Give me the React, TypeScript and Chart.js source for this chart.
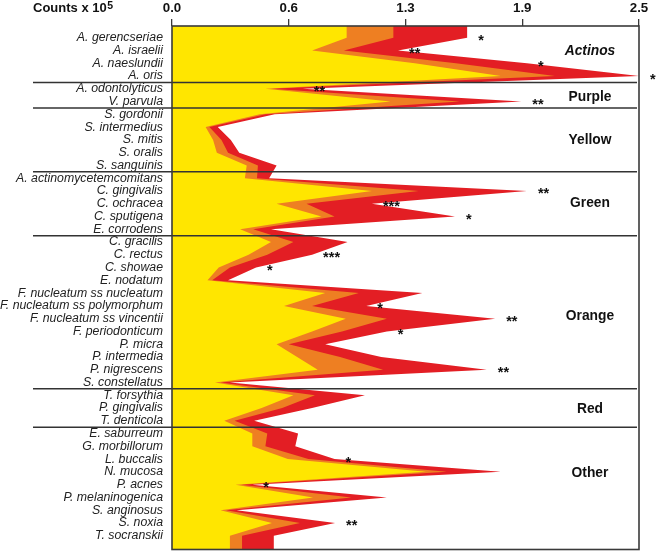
import React, { useEffect, useRef } from 'react';
import { Chart, registerables } from 'chart.js';

Chart.register(...registerables);

const FONT = '"Liberation Sans", Arial, Helvetica, sans-serif';

const categories = [
  'A. gerencseriae', 'A. israelii', 'A. naeslundii', 'A. oris',
  'A. odontolyticus', 'V. parvula',
  'S. gordonii', 'S. intermedius', 'S. mitis', 'S. oralis', 'S. sanguinis',
  'A. actinomycetemcomitans', 'C. gingivalis', 'C. ochracea', 'C. sputigena', 'E. corrodens',
  'C. gracilis', 'C. rectus', 'C. showae', 'E. nodatum', 'F. nucleatum ss nucleatum',
  'F. nucleatum ss polymorphum', 'F. nucleatum ss vincentii', 'F. periodonticum', 'P. micra',
  'P. intermedia', 'P. nigrescens', 'S. constellatus',
  'T. forsythia', 'P. gingivalis', 'T. denticola',
  'E. saburreum', 'G. morbillorum', 'L. buccalis', 'N. mucosa', 'P. acnes',
  'P. melaninogenica', 'S. anginosus', 'S. noxia', 'T. socranskii',
];

// yellow layer
const yellowValues = [
  0.935, 0.75, 1.30, 1.76,
  0.50, 1.17,
  0.47, 0.18, 0.22, 0.24, 0.40,
  0.39, 1.07, 0.56, 0.80, 0.365,
  0.53, 0.41, 0.25, 0.19, 0.82, 0.60, 0.93, 0.75, 0.56, 0.67, 0.78, 0.23,
  0.65, 0.48, 0.28,
  0.43, 0.43, 0.62, 1.36, 0.34, 0.755, 0.26, 0.535, 0.31,
];

// orange layer
const orangeValues = [
  1.185, 0.92, 1.52, 2.05,
  0.53, 1.54,
  0.50, 0.20, 0.265, 0.30, 0.46,
  0.455, 1.32, 0.72, 0.87, 0.435,
  0.65, 0.51, 0.31, 0.215, 1.00, 0.75, 1.15, 0.91, 0.625, 0.90, 1.13, 0.26,
  0.765, 0.59, 0.335,
  0.51, 0.50, 0.73, 1.47, 0.37, 0.96, 0.29, 0.685, 0.375,
];

// red layer
const redValues = [
  1.58, 1.21, 1.90, 2.50,
  0.70, 1.87,
  0.55, 0.245, 0.315, 0.36, 0.56,
  0.52, 1.90, 1.07, 1.515, 0.53,
  0.94, 0.75, 0.45, 0.30, 1.34, 1.04, 1.73, 1.15, 0.82, 1.12, 1.685, 0.31,
  1.033, 0.75, 0.44,
  0.675, 0.66, 0.87, 1.76, 0.43, 1.15, 0.346, 0.873, 0.545,
];

const significance = [
  '*', '**', '*', '*',
  '**', '**',
  '', '', '', '', '',
  '', '**', '***', '*', '',
  '', '***', '*', '', '', '*', '**', '*', '', '', '**', '',
  '', '', '',
  '', '', '*', '', '*', '', '', '**', '',
];

const groupNames = ['Actinos', 'Purple', 'Yellow', 'Green', 'Orange', 'Red', 'Other'];
const groupSizes = [4, 2, 5, 5, 12, 3, 9];
const groupLabelRows = [1.05, 4.68, 8.0, 12.97, 21.77, 29.07, 34.1];

const xTickValues = [0, 0.625, 1.25, 1.875, 2.5];
const xTickLabels = ['0.0', '0.6', '1.3', '1.9', '2.5'];

const Y_MIN = -0.92;
const Y_MAX = 40.08;

function toPoints(values: number[]) {
  return [
    { x: values[0], y: Y_MIN },
    ...values.map((v, i) => ({ x: v, y: i })),
    { x: values[values.length - 1], y: Y_MAX },
  ];
}

const annotations = {
  id: 'annotations',
  afterDraw(chart: any) {
    const { ctx, chartArea: ca, scales } = chart;
    const x = scales.x;
    const y = scales.y;
    ctx.save();
    // group separators
    ctx.strokeStyle = '#333';
    ctx.lineWidth = 1.5;
    let cum = 0;
    for (let g = 0; g < groupSizes.length - 1; g++) {
      cum += groupSizes[g];
      const py = y.getPixelForValue(cum - 0.5);
      ctx.beginPath();
      ctx.moveTo(33, py);
      ctx.lineTo(ca.right - 2, py);
      ctx.stroke();
    }
    // frame
    ctx.strokeStyle = '#3a3a3a';
    ctx.lineWidth = 1.6;
    ctx.strokeRect(ca.left, ca.top, ca.right - ca.left, ca.bottom - ca.top);

    // group labels
    ctx.fillStyle = '#111';
    ctx.textAlign = 'center';
    ctx.textBaseline = 'middle';
    groupNames.forEach((n, g) => {
      ctx.font = (g === 0 ? 'italic ' : '') + 'bold 13.8px ' + FONT;
      ctx.fillText(n, 590, y.getPixelForValue(groupLabelRows[g]));
    });

    // significance stars
    ctx.font = 'bold 14.5px ' + FONT;
    ctx.textAlign = 'left';
    ctx.textBaseline = 'alphabetic';
    significance.forEach((s, i) => {
      if (!s) return;
      ctx.fillText(s, x.getPixelForValue(redValues[i]) + 11, y.getPixelForValue(i) + 7.5);
    });

    // title
    ctx.font = 'bold 13px ' + FONT;
    ctx.fillStyle = '#111';
    ctx.fillText('Counts x 10', 33, 11.7);
    const w = ctx.measureText('Counts x 10').width;
    ctx.font = 'bold 10.5px ' + FONT;
    ctx.fillText('5', 33 + w + 0.5, 8.5);
    ctx.restore();
  },
};

export default function App() {
  const ref = useRef<HTMLCanvasElement | null>(null);

  useEffect(() => {
    if (!ref.current) return;
    const chart = new Chart(ref.current, {
      type: 'line',
      data: {
        datasets: [
          { label: 'Yellow', data: toPoints(yellowValues), backgroundColor: '#FFE600', borderWidth: 0, fill: 'origin', pointRadius: 0, tension: 0 },
          { label: 'Orange', data: toPoints(orangeValues), backgroundColor: '#EE7F22', borderWidth: 0, fill: 'origin', pointRadius: 0, tension: 0 },
          { label: 'Red', data: toPoints(redValues), backgroundColor: '#E31E24', borderWidth: 0, fill: 'origin', pointRadius: 0, tension: 0 },
        ],
      },
      options: {
        indexAxis: 'y',
        animation: false,
        responsive: false,
        events: [],
        layout: { padding: { top: 0, left: 0, right: 20, bottom: 1.5 } },
        plugins: { legend: { display: false }, tooltip: { enabled: false } },
        scales: {
          x: {
            type: 'linear',
            position: 'top',
            min: 0,
            max: 2.5,
            afterBuildTicks: (scale: any) => { scale.ticks = xTickValues.map((v) => ({ value: v })); },
            afterFit: (scale: any) => {
              scale.height = 26;
              scale.paddingLeft = 0;
              scale.paddingRight = 0;
              scale.paddingTop = 0;
              scale.paddingBottom = 0;
            },
            ticks: {
              callback: (_v: any, idx: number) => xTickLabels[idx],
              font: { family: FONT, size: 13.3, weight: 'bold' },
              color: '#111',
              padding: 3,
              maxRotation: 0,
            },
            grid: { display: true, drawOnChartArea: false, drawTicks: true, tickLength: 7, color: '#3a3a3a', lineWidth: 1.3 },
            border: { display: false },
          },
          y: {
            type: 'linear',
            reverse: true,
            min: Y_MIN,
            max: Y_MAX,
            afterBuildTicks: (scale: any) => { scale.ticks = categories.map((_, i) => ({ value: i })); },
            afterFit: (scale: any) => {
              scale.width = 172;
              scale.paddingLeft = 0;
              scale.paddingRight = 0;
              scale.paddingTop = 0;
              scale.paddingBottom = 0;
            },
            ticks: {
              autoSkip: false,
              callback: (v: any) => categories[Math.round(Number(v))],
              font: { family: FONT, size: 12.3, style: 'italic' },
              color: '#222',
              padding: 9,
            },
            grid: { display: false, drawTicks: false },
            border: { display: false },
          },
        },
      },
      plugins: [annotations],
    });
    return () => chart.destroy();
  }, []);

  return (
    <div style={{ position: 'fixed', left: 0, top: 0, width: 659, height: 551, background: '#fff' }}>
      <canvas ref={ref} width={659} height={551} />
    </div>
  );
}
